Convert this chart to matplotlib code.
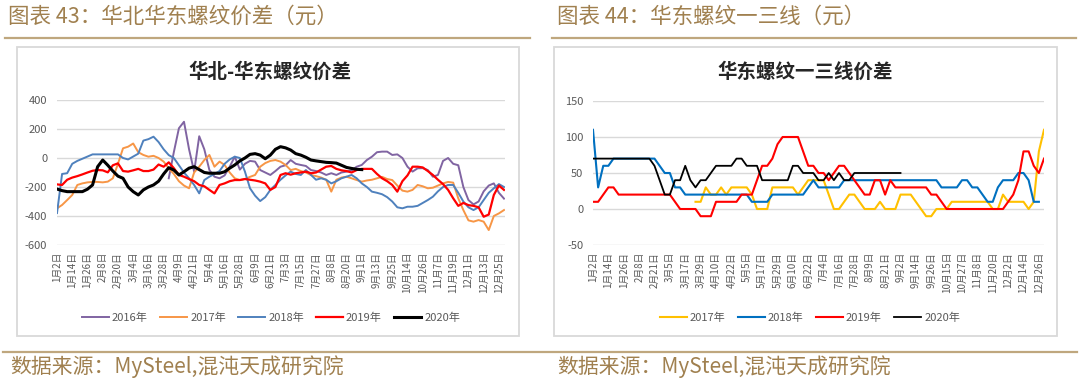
import numpy as np
import matplotlib
matplotlib.use('Agg')
import matplotlib.pyplot as plt
from matplotlib.lines import Line2D
from matplotlib.patches import Rectangle

plt.rcParams['font.family'] = ['Noto Sans CJK SC', 'DejaVu Sans']
plt.rcParams['axes.unicode_minus'] = False

nan = np.nan

#---------------- left chart data: 华北-华东螺纹价差 (3 points per label step) -------------
left_labels = ['1月2日', '1月14日', '1月26日', '2月8日', '2月20日', '3月4日', '3月16日', '3月28日',
               '4月9日', '4月21日', '5月4日', '5月16日', '5月28日', '6月9日', '6月21日', '7月3日',
               '7月15日', '7月27日', '8月8日', '8月20日', '9月1日', '9月13日', '9月25日', '10月14日',
               '10月26日', '11月7日', '11月19日', '12月1日', '12月13日', '12月25日']

spread_2016 = [nan] * 22 + [
    -140, 40, 205, 250, 60, -94, 150, 60, -83, -129,
    -140, -120, -60, 9, -80, -40, -20, -25, -83, -100,
    -117, -90, -60, -50, -14, -40, -48, -55, -83, -90,
    -100, -117, -105, -117, -100, -94, -85, -60, -48, -14,
    9, 40, 44, 44, 21, 25, 0, -60, -94, -71,
    -70, -83, -129, -117, -20, 0, -40, -50, -200, -290,
    -320, -300, -230, -190, -175, -240, -280]

spread_2017 = [-347, -324, -290, -255, -186, -175, -168, -165, -165, -168,
               -163, -140, -40, 67, 78, 100, 40, 21, 9, 15,
               0, -25, -71, -110, -160, -190, -209, -100, -60, -14,
               21, -60, -25, -48, -100, -140, -152, -145, -130, -117,
               -60, -35, -20, -14, -25, -48, -83, -75, -90, -100,
               -117, -125, -135, -150, -232, -150, -135, -129, -140, -152,
               -163, -155, -150, -140, -130, -145, -152, -190, -225, -232,
               -220, -186, -195, -209, -205, -190, -175, -165, -170, -278,
               -359, -430, -439, -428, -439, -497, -400, -382, -359]

spread_2018 = [-380, -110, -105, -40, -20, -5, 10, 25, 25, 25,
               25, 25, 25, 0, -10, 10, 30, 120, 130, 147,
               110, 60, 20, 0, -50, -100, -140, -186, -244, -152,
               -129, -110, -90, -40, -10, 9, 0, -94, -209, -260,
               -297, -270, -220, -186, -150, -120, -94, -110, -117, -83,
               -117, -150, -140, -150, -175, -160, -140, -129, -117, -140,
               -175, -200, -232, -240, -250, -270, -300, -340, -347, -336,
               -336, -330, -310, -290, -267, -230, -200, -186, -186, -240,
               -300, -340, -359, -340, -290, -240, -209, -180, -200]

spread_2019 = [-182, -186, -150, -135, -125, -113, -100, -88, -83, -85,
               -99, -50, -37, -90, -94, -85, -75, -90, -90, -80,
               -45, -60, -30, -70, -117, -129, -145, -160, -186, -195,
               -220, -244, -186, -175, -160, -152, -152, -145, -150, -155,
               -163, -175, -220, -200, -117, -105, -115, -105, -100, -94,
               -105, -100, -80, -60, -55, -75, -85, -90, -100, -83,
               -75, -75, -75, -110, -140, -160, -186, -232, -160, -120,
               -60, -60, -65, -90, -117, -150, -180, -220, -278, -330,
               -310, -325, -330, -340, -405, -390, -255, -190, -220]

spread_2020 = [-214, -225, -232, -232, -232, -232, -215, -186, -60, -14,
               -50, -90, -125, -140, -200, -232, -255, -220, -200, -186,
               -160, -110, -67, -83, -117, -95, -70, -60, -80, -100,
               -105, -105, -105, -95, -70, -48, -20, 0, 25, 30,
               20, -5, 20, 60, 78, 70, 55, 30, 20, 5,
               -14, -20, -25, -30, -32, -35, -50, -65, -72, -78,
               -80] + [nan] * 28

#---------------- right chart data: 华东螺纹一三线价差 ----------------
right_labels = ['1月2日', '1月14日', '1月26日', '2月8日', '2月21日', '3月5日', '3月17日', '3月29日',
                '4月10日', '4月22日', '5月5日', '5月17日', '5月29日', '6月10日', '6月22日', '7月4日',
                '7月16日', '7月28日', '8月9日', '8月21日', '9月2日', '9月14日', '9月26日', '10月15日',
                '10月27日', '11月8日', '11月20日', '12月2日', '12月14日', '12月26日']

tier_2017 = [nan] * 20 + [
    10, 10, 30, 20, 20, 30, 20, 30, 30, 30,
    30, 20, 0, 0, 0, 30, 30, 30, 30, 30,
    20, 30, 40, 40, 40, 40, 20, 0, 0, 10,
    20, 20, 10, 0, 0, 0, 10, 0, 0, 0,
    20, 20, 20, 10, 0, -10, -10, 0, 0, 0,
    10, 10, 10, 10, 10, 10, 10, 10, 0, 0,
    20, 10, 10, 10, 10, 0, 10, 80, 110]

tier_2018 = [110, 30, 60, 60, 70, 70, 70, 70, 70, 70,
             70, 70, 70, 60, 50, 50, 30, 30, 20, 20,
             20, 20, 20, 20, 20, 20, 20, 20, 20, 20,
             20, 10, 10, 10, 10, 20, 20, 20, 20, 20,
             20, 20, 30, 40, 30, 30, 30, 30, 30, 40,
             40, 40, 40, 40, 40, 40, 40, 40, 40, 40,
             40, 40, 40, 40, 40, 40, 40, 40, 30, 30,
             30, 30, 40, 40, 30, 30, 20, 10, 10, 30,
             40, 40, 40, 50, 50, 40, 10, 10, nan]

tier_2019 = [10, 10, 20, 30, 30, 20, 20, 20, 20, 20,
             20, 20, 20, 20, 20, 20, 10, 0, 0, 0,
             0, -10, -10, -10, 10, 10, 10, 10, 10, 20,
             20, 20, 40, 60, 60, 70, 90, 100, 100, 100,
             100, 80, 60, 60, 50, 50, 40, 50, 60, 60,
             50, 40, 30, 20, 20, 40, 40, 20, 40, 30,
             30, 30, 30, 30, 30, 30, 20, 20, 10, 0,
             0, 0, 0, 0, 0, 0, 0, 0, 0, 0,
             0, 10, 20, 40, 80, 80, 60, 50, 70]

tier_2020 = [70, 70, 70, 70, 70, 70, 70, 70, 70, 70,
             70, 70, 60, 40, 20, 20, 40, 40, 60, 40,
             30, 40, 40, 50, 60, 60, 60, 60, 70, 70,
             60, 60, 60, 40, 40, 40, 40, 40, 40, 60,
             60, 50, 50, 50, 40, 40, 50, 40, 50, 40,
             40, 50, 50, 50, 50, 50, 50, 50, 50, 50,
             50] + [nan] * 28

brown = '#A0804F'
line_brown = '#BFA77E'
grid_c = '#D9D9D9'
tick_c = '#595959'

fig = plt.figure(figsize=(10.8, 3.8), dpi=100)
W, H = 1080.0, 380.0


def fx(px):
    return px / W


def fy(py):
    return 1 - py / H


# headers / footers
fig.text(fx(8), fy(17), '图表 43：华北华东螺纹价差（元）', fontsize=15.5, color=brown, va='center')
fig.text(fx(557), fy(17), '图表 44：华东螺纹一三线（元）', fontsize=15.5, color=brown, va='center')
fig.add_artist(Line2D([fx(5), fx(530)], [fy(38), fy(38)], color=line_brown, lw=1.6))
fig.add_artist(Line2D([fx(552), fx(1076)], [fy(38), fy(38)], color=line_brown, lw=1.6))
fig.add_artist(Line2D([fx(3), fx(1077)], [fy(352), fy(352)], color=line_brown, lw=1.6))
fig.text(fx(10), fy(367), '数据来源：MySteel,混沌天成研究院', fontsize=15, color=brown, va='center')
fig.text(fx(557), fy(367), '数据来源：MySteel,混沌天成研究院', fontsize=15, color=brown, va='center')

# chart frames
fig.add_artist(Rectangle((fx(17), fy(336)), fx(502), 289 / H, fill=False, ec=grid_c, lw=1.3))
fig.add_artist(Rectangle((fx(554), fy(336)), fx(503), 289 / H, fill=False, ec=grid_c, lw=1.3))


def style_axis(ax, labels, ylim, yticks):
    ax.set_ylim(*ylim)
    ax.set_yticks(yticks)
    ax.set_xticks(np.arange(len(labels)) * 3)
    ax.set_xticklabels(labels, rotation=90, fontsize=7, color=tick_c)
    ax.tick_params(axis='y', labelsize=8, colors=tick_c, length=0, pad=7)
    ax.tick_params(axis='x', length=0, pad=5)
    ax.grid(True, axis='y', color=grid_c, lw=1)
    ax.set_axisbelow(True)
    for s in ax.spines.values():
        s.set_visible(False)


#------------------ LEFT ------------------
axl = fig.add_axes([fx(57), fy(245), fx(448), 145 / H])
x_l = np.arange(len(spread_2018))
axl.plot(x_l, spread_2016, color='#8064A2', lw=1.4, label='2016年')
axl.plot(x_l, spread_2017, color='#F79646', lw=1.4, label='2017年')
axl.plot(x_l, spread_2018, color='#4F81BD', lw=1.4, label='2018年')
axl.plot(x_l, spread_2019, color='#FF0000', lw=1.6, label='2019年')
axl.plot(x_l, spread_2020, color='#000000', lw=2.2, label='2020年')
axl.set_xlim(0, 88.2)
style_axis(axl, left_labels, (-600, 400), range(-600, 401, 200))
fig.text(fx(270), fy(72), '华北-华东螺纹价差', fontsize=14, fontweight='bold',
         color='#262626', ha='center', va='center')
h, l = axl.get_legend_handles_labels()
fig.legend(h, l, loc='center', bbox_to_anchor=(fx(271), fy(318)), ncol=5, frameon=False,
           fontsize=8, handlelength=2.4, handletextpad=0.3, columnspacing=1.1,
           labelcolor=tick_c)

#------------------ RIGHT ------------------
axr = fig.add_axes([fx(593), fy(245), fx(451), 144 / H])
x_r = np.arange(len(tier_2018))
axr.plot(x_r, tier_2017, color='#FFC000', lw=1.5, label='2017年')
axr.plot(x_r, tier_2018, color='#0070C0', lw=1.5, label='2018年')
axr.plot(x_r, tier_2019, color='#FF0000', lw=1.5, label='2019年')
axr.plot(x_r, tier_2020, color='#000000', lw=1.3, label='2020年')
axr.set_xlim(0, 88)
style_axis(axr, right_labels, (-50, 150), [-50, 0, 50, 100, 150])
fig.text(fx(805), fy(72), '华东螺纹一三线价差', fontsize=14, fontweight='bold',
         color='#262626', ha='center', va='center')
h, l = axr.get_legend_handles_labels()
fig.legend(h, l, loc='center', bbox_to_anchor=(fx(810), fy(318)), ncol=4, frameon=False,
           fontsize=8, handlelength=2.4, handletextpad=0.3, columnspacing=1.1,
           labelcolor=tick_c)

fig.savefig('out.png', dpi=100, facecolor='white')
